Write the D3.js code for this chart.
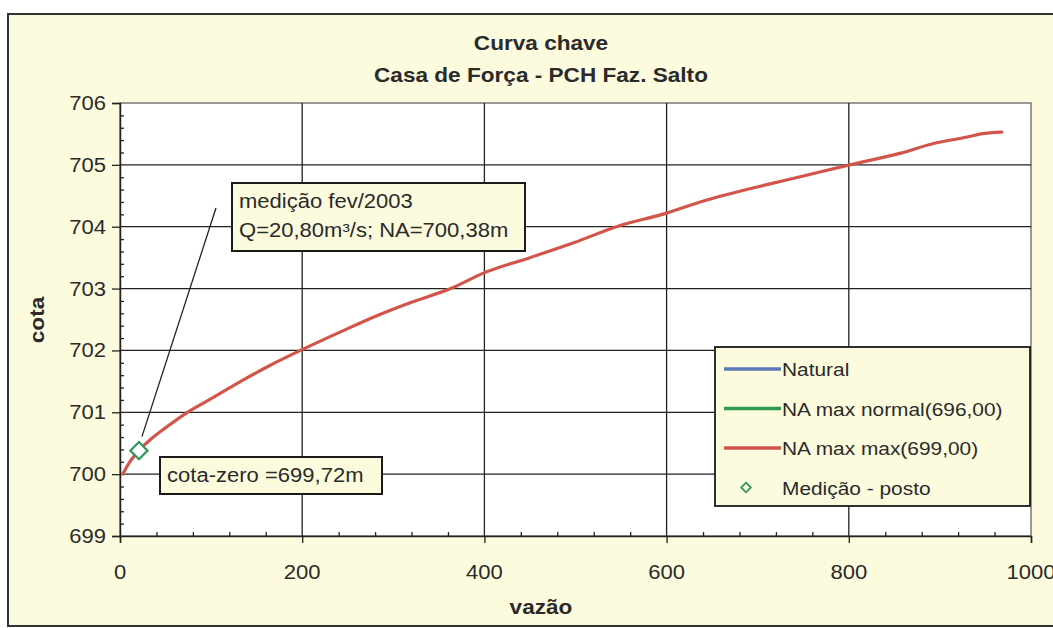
<!DOCTYPE html>
<html>
<head>
<meta charset="utf-8">
<script src="https://cdn.jsdelivr.net/npm/d3@7/dist/d3.min.js"></script>
<style>
  html, body { margin: 0; padding: 0; background: #ffffff; }
  svg { display: block; }
  text { font-family: "Liberation Sans", Arial, sans-serif; fill: #2a2a2a; }
</style>
</head>
<body>
<script>
// Rating curve (curva chave) for the powerhouse section
const titleLines = ["Curva chave", "Casa de Força - PCH Faz. Salto"];
const xTicks = [0, 200, 400, 600, 800, 1000];
const yTicks = [699, 700, 701, 702, 703, 704, 705, 706];

// discharge (m³/s) and stage (m) along the "NA max max(699,00)" curve
const vazao = [3, 10, 20.8, 35, 50, 74, 100, 135, 165, 198, 242, 280, 320, 363, 399, 450, 498, 545, 600, 637, 710, 750, 801, 857, 894, 930, 945, 968];
const cota  = [700.0, 700.18, 700.38, 700.58, 700.75, 701.0, 701.22, 701.52, 701.76, 702.0, 702.3, 702.55, 702.78, 703.0, 703.25, 703.5, 703.74, 704.0, 704.22, 704.4, 704.68, 704.82, 705.0, 705.19, 705.35, 705.45, 705.5, 705.53];

// field measurement
const medicaoQ = [20.8];
const medicaoNA = [700.38];

const legendLabels = ["Natural", "NA max normal(696,00)", "NA max max(699,00)", "Medição - posto"];
const legendColors = ["#5a78b8", "#2f9a4f", "#d2554a", "#2f9a5a"];

const W = 1053, H = 628;
const SX = 1.13; // horizontal stretch of the chart lettering
const svg = d3.select("body").append("svg").attr("width", W).attr("height", H);

// text helper: places a label with the chart's wide lettering
function label(parent, px, py, str, size, opts = {}) {
  const rot = opts.rotate ? ` rotate(${opts.rotate})` : "";
  return parent.append("text")
    .attr("transform", `translate(${px},${py})${rot} scale(${SX},1)`)
    .attr("text-anchor", opts.anchor || "start")
    .attr("font-size", size)
    .attr("font-weight", opts.bold ? "bold" : "normal")
    .text(str);
}

// chart frame
svg.append("rect").attr("x", 8).attr("y", 14).attr("width", 1100).attr("height", 612)
  .attr("fill", "#fcfbdd").attr("stroke", "#333").attr("stroke-width", 2);

const x = d3.scaleLinear().domain([0, 1000]).range([120, 1031]);
const y = d3.scaleLinear().domain([699, 706]).range([536, 103]);

// plot area
svg.append("rect").attr("x", x(0)).attr("y", y(706))
  .attr("width", x(1000) - x(0)).attr("height", y(699) - y(706))
  .attr("fill", "#ffffff").attr("stroke", "#555").attr("stroke-width", 1.2);

// grid
const grid = svg.append("g").attr("stroke", "#222").attr("stroke-width", 1.3);
grid.selectAll(".gx").data(xTicks.filter(d => d > 0 && d < 1000)).join("line")
  .attr("x1", d => x(d)).attr("x2", d => x(d)).attr("y1", y(706)).attr("y2", y(699));
grid.selectAll(".gy").data(yTicks.filter(d => d > 699 && d < 706)).join("line")
  .attr("y1", d => y(d)).attr("y2", d => y(d)).attr("x1", x(0)).attr("x2", x(1000));

// axes (labels are added separately so they can carry the wide lettering)
const xAxis = svg.append("g").attr("transform", `translate(0,${y(699)})`)
  .call(d3.axisBottom(x).tickValues(xTicks).tickSize(7).tickFormat(""));
svg.append("g").attr("transform", `translate(0,${y(699)})`)
  .call(d3.axisTop(x).tickValues(d3.range(0, 1001, 40).filter(d => d % 200 !== 0)).tickSize(4).tickFormat(""))
  .call(g => g.select(".domain").remove());
const yAxis = svg.append("g").attr("transform", `translate(${x(0)},0)`)
  .call(d3.axisLeft(y).tickValues(yTicks).tickSize(8).tickFormat(""));
svg.append("g").attr("transform", `translate(${x(0)},0)`)
  .call(d3.axisRight(y).tickValues(d3.range(699, 706.001, 0.2).filter(d => Math.abs(d - Math.round(d)) > 0.01)).tickSize(4).tickFormat(""))
  .call(g => g.select(".domain").remove());

svg.selectAll(".domain").attr("stroke", "#222").attr("stroke-width", 1.5);
svg.selectAll(".tick line").attr("stroke", "#222").attr("stroke-width", 1.3);

const tickLabels = svg.append("g");
xTicks.forEach(d => label(tickLabels, x(d), 579, d3.format("d")(d), 19.5, { anchor: "middle" }));
yTicks.forEach(d => label(tickLabels, 106, y(d) + 7, d3.format("d")(d), 19.5, { anchor: "end" }));

// titles
titleLines.forEach((t, i) => label(svg, 541, 50 + i * 32, t, 20, { anchor: "middle", bold: true }));
label(svg, 541, 614, "vazão", 20, { anchor: "middle", bold: true });
label(svg, 44, 320, "cota", 20, { anchor: "middle", bold: true, rotate: -90 });

// curve
const pts = vazao.map((q, i) => [q, cota[i]]);
svg.append("path").datum(pts)
  .attr("fill", "none").attr("stroke", legendColors[2]).attr("stroke-width", 3.2)
  .attr("stroke-linejoin", "round").attr("stroke-linecap", "round")
  .attr("d", d3.line().x(d => x(d[0])).y(d => y(d[1])).curve(d3.curveMonotoneX));

// callout leader line
svg.append("line").attr("x1", 216).attr("y1", 208).attr("x2", x(medicaoQ[0]) + 3).attr("y2", y(medicaoNA[0]) - 14)
  .attr("stroke", "#222").attr("stroke-width", 1.3);

// measurement marker
const diamond = d3.symbol().type(d3.symbolDiamond2).size(190);
svg.selectAll(".med").data(medicaoQ).join("path")
  .attr("transform", (d, i) => `translate(${x(d)},${y(medicaoNA[i])})`)
  .attr("d", diamond).attr("fill", "#ffffff").attr("stroke", legendColors[3]).attr("stroke-width", 2.2);

// callout boxes
function callout(bx, by, bw, bh, lines, size) {
  svg.append("rect").attr("x", bx).attr("y", by).attr("width", bw).attr("height", bh)
    .attr("fill", "#fcfbdd").attr("stroke", "#1a1a1a").attr("stroke-width", 2);
  lines.forEach((t, i) => label(svg, bx + 7, by + 25 + i * 29, t, size));
}
callout(232, 183, 293, 68, ["medição fev/2003", "Q=20,80m³/s; NA=700,38m"], 19.5);
callout(160, 457, 222, 37, ["cota-zero =699,72m"], 19.5);

// legend
const lg = svg.append("g");
lg.append("rect").attr("x", 715).attr("y", 347).attr("width", 315).attr("height", 159)
  .attr("fill", "#fcfbdd").attr("stroke", "#1a1a1a").attr("stroke-width", 1.8);
legendLabels.forEach((lab, i) => {
  const yy = 369 + i * 39.5;
  if (i < 3) {
    lg.append("line").attr("x1", 724).attr("x2", 781).attr("y1", yy).attr("y2", yy)
      .attr("stroke", legendColors[i]).attr("stroke-width", 3.5);
  } else {
    lg.append("path").attr("transform", `translate(746,${yy})`)
      .attr("d", d3.symbol().type(d3.symbolDiamond2).size(60))
      .attr("fill", "none").attr("stroke", legendColors[i]).attr("stroke-width", 1.8);
  }
  label(lg, 782, yy + 7, lab, 18.5);
});
</script>
</body>
</html>
